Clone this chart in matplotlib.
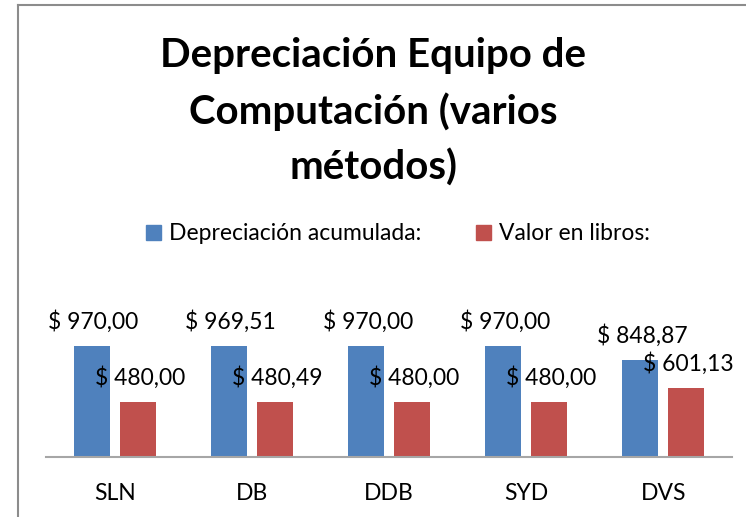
import matplotlib
matplotlib.use("Agg")
import matplotlib.pyplot as plt
from matplotlib.patches import Patch
from matplotlib.lines import Line2D
import numpy as np

categories = ["SLN", "DB", "DDB", "SYD", "DVS"]
depreciacion = [970.00, 969.51, 970.00, 970.00, 848.87]
valor_libros = [480.00, 480.49, 480.00, 480.00, 601.13]
series_names = ["Depreciación acumulada:", "Valor en libros:"]
title = "Depreciación Equipo de\nComputación (varios\nmétodos)"

BLUE = "#4F81BD"
RED = "#C0504D"
FONT = ["Lato", "DejaVu Sans"]

W, H = 746, 517
fig = plt.figure(figsize=(W / 100, H / 100), dpi=100)

# border lines (top & left visible)
fig.add_artist(Line2D([18 / W, 18 / W], [0, 1 - 5 / H], color="#8c8c8c", lw=1.5))
fig.add_artist(Line2D([18 / W, 1], [1 - 5 / H, 1 - 5 / H], color="#8c8c8c", lw=1.5))

ax_left, ax_right = 46 / W, 732 / W
ax_bottom = 60 / H
ax_top = (517 - 300) / H
ax = fig.add_axes([ax_left, ax_bottom, ax_right - ax_left, ax_top - ax_bottom])

x = np.arange(len(categories))
bw = 0.263
off = 0.168
b1 = ax.bar(x - off, depreciacion, bw, color=BLUE)
b2 = ax.bar(x + off, valor_libros, bw, color=RED)

ax.set_xlim(-0.5, len(categories) - 0.5)
ax.set_ylim(0, 1372)

def fmt(v):
    return "$ " + f"{v:,.2f}".replace(",", "X").replace(".", ",").replace("X", ".")

for bars, vals in ((b1, depreciacion), (b2, valor_libros)):
    for r, v in zip(bars, vals):
        ax.annotate(fmt(v), (r.get_x() + r.get_width() / 2, v), xytext=(2, 13),
                    textcoords="offset pixels", ha="center", va="bottom",
                    fontsize=16.5, family=FONT, color="black")

for s in ["top", "right", "left"]:
    ax.spines[s].set_visible(False)
ax.spines["bottom"].set_color("#a6a6a6")
ax.spines["bottom"].set_linewidth(1.5)
ax.set_yticks([])
ax.set_xticks(x)
ax.set_xticklabels(categories, fontsize=16.5, family=FONT)
ax.tick_params(axis="x", length=0, pad=19)

fig.text(0.5, 1 - 112 / H, title, ha="center", va="center", fontsize=29,
         fontweight="bold", family=FONT, linespacing=1.58)

handles = [Patch(color=BLUE), Patch(color=RED)]
fig.legend(handles, series_names, loc="center", bbox_to_anchor=(398 / W, 1 - 234 / H),
           ncol=2, frameon=False, prop={"family": FONT, "size": 16.5},
           handlelength=0.65, handleheight=0.65, handletextpad=0.35, columnspacing=2.4)

fig.savefig("out.png", dpi=100)
